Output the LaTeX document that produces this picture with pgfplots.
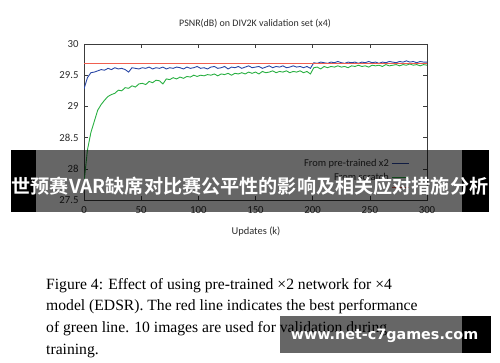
\documentclass[border=0pt]{standalone}
\usepackage{pgfplots}
\pgfplotsset{compat=1.18}
\usepackage{fontspec}
\setmainfont{Carlito}
\newfontfamily\capfont{Liberation Serif}
\newfontfamily\cjk{Noto Sans CJK SC}[BoldFont={Noto Sans CJK SC Bold}]
\newfontfamily\wmfont{DejaVu Sans}
\begin{document}
\begin{tikzpicture}[x=1bp,y=1bp]
\definecolor{cblue}{RGB}{40,70,165}
\definecolor{cgreen}{RGB}{40,175,65}
\definecolor{lineRed}{RGB}{240,95,80}
\definecolor{axgray}{RGB}{60,60,60}
\definecolor{txtgray}{RGB}{45,45,45}
\path[use as bounding box] (0,0) rectangle (500,362);
\begin{axis}[
  at={(84bp,162bp)}, anchor=south west,
  scale only axis, width=343bp, height=156bp,
  xmin=0, xmax=300, ymin=27.5, ymax=30,
  xtick={0,50,100,150,200,250,300},
  ytick={27.5,28,28.5,29,29.5,30},
  tick align=inside, major tick length=4bp,
  axis line style={axgray, line width=0.8pt},
  every tick/.style={axgray, line width=0.6pt},
  tick label style={font=\fontsize{10.8}{12}\selectfont, text=txtgray},
  /pgf/number format/assume math mode=true,
  xticklabel style={yshift=-3bp},
  yticklabel style={xshift=-2bp},
  legend style={at={(0.958,0.287)}, anchor=north east, draw=none, fill=none,
    font=\fontsize{10.5}{12}\selectfont, row sep=1bp},
  legend cell align=right, legend plot pos=right,
]
\addplot[draw=cblue, line width=0.9pt] coordinates {
(0,29.28) (3,29.46) (6,29.54) (9,29.55) (12,29.57) (15,29.59) (18,29.58) (21,29.61) (24,29.59) (27,29.62)
(30,29.60) (33,29.61) (36,29.59) (39,29.55) (42,29.62) (45,29.61) (48,29.60) (51,29.62) (54,29.61) (57,29.63)
(60,29.60) (63,29.62) (66,29.61) (69,29.63) (72,29.60) (75,29.62) (78,29.61) (81,29.63) (84,29.62) (87,29.60)
(90,29.63) (93,29.61) (96,29.62) (99,29.64) (102,29.61) (105,29.62) (108,29.60) (111,29.63) (114,29.64) (117,29.61)
(120,29.62) (123,29.64) (126,29.60) (129,29.63) (132,29.62) (135,29.64) (138,29.61) (141,29.63) (144,29.65) (147,29.62)
(150,29.63) (153,29.64) (156,29.61) (159,29.63) (162,29.65) (165,29.62) (168,29.64) (171,29.63) (174,29.65) (177,29.62)
(180,29.63) (183,29.65) (186,29.63) (189,29.64) (192,29.62) (195,29.64) (198,29.61) (201,29.70) (204,29.69) (207,29.71)
(210,29.70) (213,29.69) (216,29.71) (219,29.70) (222,29.72) (225,29.70) (228,29.69) (231,29.71) (234,29.70) (237,29.71)
(240,29.69) (243,29.71) (246,29.70) (249,29.72) (252,29.70) (255,29.71) (258,29.69) (261,29.71) (264,29.70) (267,29.72)
(270,29.71) (273,29.70) (276,29.72) (279,29.71) (282,29.73) (285,29.71) (288,29.72) (291,29.70) (294,29.72) (297,29.71)
(300,29.71)};
\addlegendentry{\textcolor{txtgray}{From pre-trained x2}}
\addplot[draw=cgreen, line width=0.9pt] coordinates {
(0,27.78) (3,28.30) (6,28.58) (9,28.76) (12,28.94) (15,29.03) (18,29.10) (21,29.16) (24,29.19) (27,29.21)
(30,29.26) (33,29.25) (36,29.30) (39,29.29) (42,29.33) (45,29.31) (48,29.36) (51,29.37) (54,29.35) (57,29.40)
(60,29.38) (63,29.42) (66,29.41) (69,29.36) (72,29.44) (75,29.43) (78,29.46) (81,29.44) (84,29.47) (87,29.45)
(90,29.48) (93,29.47) (96,29.50) (99,29.48) (102,29.50) (105,29.49) (108,29.51) (111,29.50) (114,29.52) (117,29.49)
(120,29.52) (123,29.51) (126,29.53) (129,29.50) (132,29.53) (135,29.52) (138,29.54) (141,29.52) (144,29.55) (147,29.53)
(150,29.55) (153,29.52) (156,29.56) (159,29.54) (162,29.55) (165,29.57) (168,29.54) (171,29.56) (174,29.55) (177,29.57)
(180,29.54) (183,29.56) (186,29.55) (189,29.57) (192,29.54) (195,29.56) (198,29.52) (201,29.62) (204,29.63) (207,29.60)
(210,29.64) (213,29.62) (216,29.64) (219,29.63) (222,29.65) (225,29.63) (228,29.64) (231,29.62) (234,29.65) (237,29.64)
(240,29.66) (243,29.64) (246,29.65) (249,29.63) (252,29.66) (255,29.65) (258,29.66) (261,29.64) (264,29.67) (267,29.65)
(270,29.66) (273,29.67) (276,29.65) (279,29.67) (282,29.66) (285,29.68) (288,29.66) (291,29.67) (294,29.65) (297,29.67)
(300,29.66)};
\addlegendentry{\textcolor{txtgray}{From scratch}}
\addplot[draw=lineRed, line width=1.6pt] coordinates {(0,29.69) (300,29.69)};
\addlegendentry{}
\end{axis}
% title and x label
\node[text=txtgray, font=\fontsize{10}{12}\selectfont] at (255,338) {PSNR(dB) on DIV2K validation set (x4)};
\node[text=txtgray, font=\fontsize{10.5}{12}\selectfont] at (256,130) {Updates (k)};
% banner
\fill[black] (11,150) rectangle (36,212);
\fill[black] (462,150) rectangle (489,212);
\fill[black, opacity=0.6] (36,150) rectangle (462,212);
\node[text=white, font=\cjk\bfseries\fontsize{19.2}{22}\selectfont] at (250,176) {世预赛VAR缺席对比赛公平性的影响及相关应对措施分析};
% caption
\begin{scope}[every node/.style={anchor=base west, inner sep=0pt, font=\capfont\fontsize{15.7}{18}\selectfont, text=black}]
\node at (46,73) {Figure 4: Effect of using pre-trained ×2 network for ×4};
\node at (46,51.3) {model (EDSR). The red line indicates the best performance};
\node at (46,29.7) {of green line. 10 images are used for validation during};
\node at (46,8) {training.};
\end{scope}
% watermark
\fill[black, opacity=0.6] (280,9) rectangle (462,46);
\fill[black] (462,9) rectangle (491,46);
\node[text=white, font=\wmfont\bfseries\fontsize{14.4}{16}\selectfont] at (384.5,26) {www.net-c7games.com};
\end{tikzpicture}
\end{document}
